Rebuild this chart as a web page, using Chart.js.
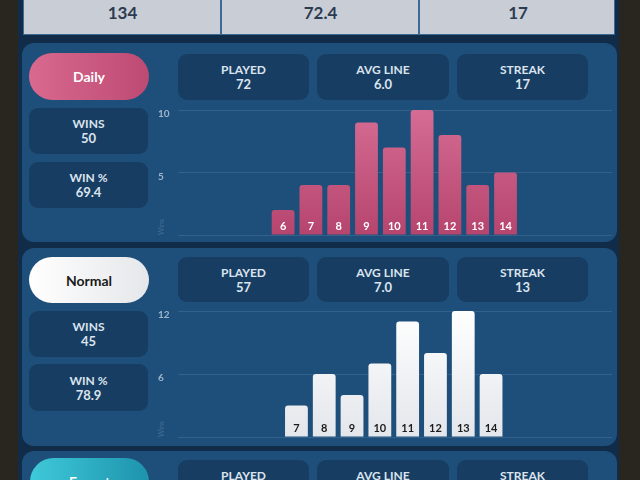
<!DOCTYPE html>
<html>
<head>
<meta charset="utf-8">
<script src="https://cdn.jsdelivr.net/npm/chart.js@4.4.0/dist/chart.umd.min.js"></script>
<style>
  html, body { margin: 0; padding: 0; width: 640px; height: 480px; overflow: hidden; background: #29251f; font-family: Lato, 'Noto Sans', sans-serif; }
  .abs { position: absolute; box-sizing: border-box; }
  .frame { left: 18px; top: 0; width: 601px; height: 480px; background: #112c49; }
  .top { left: 23px; top: -10px; width: 592px; height: 45px; background: #c9ced6; border: 1px solid #3d6a94; border-top: none; }
  .cell { top: 0; height: 44px; display: flex; align-items: center; justify-content: center; padding-top: 1px; color: #2c3b50; font-weight: bold; font-size: 17px; }
  .div { top: 0; width: 2px; height: 44px; background: #3d6a94; }
  .panel { left: 22px; width: 595px; background: #1e4e7a; border-radius: 12px; }
  .box { background: #173d62; border-radius: 9px; display: flex; flex-direction: column; align-items: center; justify-content: center; color: #dbe4ee; font-weight: bold; line-height: 14px; }
  .box .l { font-size: 12px; }
  .box .v { font-size: 13px; }
  .pill { border-radius: 24px; display: flex; align-items: center; justify-content: center; font-weight: bold; font-size: 14px; }
  .chart { left: 150px; width: 470px; }
</style>
</head>
<body>
<div class="abs frame"></div>

<div class="abs top">
  <div class="abs cell" style="left:0;width:197px">134</div>
  <div class="abs div" style="left:196px"></div>
  <div class="abs cell" style="left:198px;width:197px">72.4</div>
  <div class="abs div" style="left:394px"></div>
  <div class="abs cell" style="left:396px;width:196px">17</div>
</div>

<!-- Daily -->
<div class="abs panel" style="top:43px;height:199px"></div>
<div class="abs pill" style="left:29px;top:53px;width:120px;height:47px;background:linear-gradient(90deg,#d9698f,#bd4a73);color:#fff">Daily</div>
<div class="abs box" style="left:178px;top:54px;width:131px;height:46px"><span class="l">PLAYED</span><span class="v">72</span></div>
<div class="abs box" style="left:317px;top:54px;width:132px;height:46px"><span class="l">AVG LINE</span><span class="v">6.0</span></div>
<div class="abs box" style="left:457px;top:54px;width:131px;height:46px"><span class="l">STREAK</span><span class="v">17</span></div>
<div class="abs box" style="left:29px;top:108px;width:119px;height:46px"><span class="l">WINS</span><span class="v">50</span></div>
<div class="abs box" style="left:29px;top:162px;width:119px;height:46px"><span class="l">WIN %</span><span class="v">69.4</span></div>
<div class="abs chart" style="top:100px;height:145px"><canvas id="daily"></canvas></div>

<!-- Normal -->
<div class="abs panel" style="top:248px;height:198px"></div>
<div class="abs pill" style="left:29px;top:257px;width:120px;height:46px;background:linear-gradient(90deg,#ffffff,#e6e7ea);color:#1b1b1b">Normal</div>
<div class="abs box" style="left:178px;top:257px;width:131px;height:45px"><span class="l">PLAYED</span><span class="v">57</span></div>
<div class="abs box" style="left:317px;top:257px;width:132px;height:45px"><span class="l">AVG LINE</span><span class="v">7.0</span></div>
<div class="abs box" style="left:457px;top:257px;width:131px;height:45px"><span class="l">STREAK</span><span class="v">13</span></div>
<div class="abs box" style="left:29px;top:311px;width:119px;height:46px"><span class="l">WINS</span><span class="v">45</span></div>
<div class="abs box" style="left:29px;top:364px;width:119px;height:47px"><span class="l">WIN %</span><span class="v">78.9</span></div>
<div class="abs chart" style="top:301px;height:146px"><canvas id="normal"></canvas></div>

<!-- Expert (cut off) -->
<div class="abs panel" style="top:451px;height:80px"></div>
<div class="abs pill" style="left:30px;top:458px;width:119px;height:47px;background:linear-gradient(90deg,#3fc9d9,#1d93ad);color:#fff">Expert</div>
<div class="abs box" style="left:178px;top:460px;width:131px;height:46px;justify-content:flex-start;padding-top:9px"><span class="l">PLAYED</span></div>
<div class="abs box" style="left:317px;top:460px;width:132px;height:46px;justify-content:flex-start;padding-top:9px"><span class="l">AVG LINE</span></div>
<div class="abs box" style="left:457px;top:460px;width:131px;height:46px;justify-content:flex-start;padding-top:9px"><span class="l">STREAK</span></div>

<script>
// guesses (line number) and wins per guess
const dailyGuesses = [6, 7, 8, 9, 10, 11, 12, 13, 14];
const dailyWins = [2, 4, 4, 9, 7, 10, 8, 4, 5];
const dailyTicks = [0, 5, 10];

const normalGuesses = [7, 8, 9, 10, 11, 12, 13, 14];
const normalWins = [3, 6, 4, 7, 11, 8, 12, 6];
const normalTicks = [0, 6, 12];

// numbers drawn inside the bottom of each bar
const barLabels = {
  id: 'barLabels',
  afterDatasetsDraw(chart, args, opts) {
    const { ctx } = chart;
    const meta = chart.getDatasetMeta(0);
    const ds = chart.data.datasets[0];
    ctx.save();
    ctx.font = 'bold 11px Lato, sans-serif';
    ctx.fillStyle = opts.color;
    ctx.textAlign = 'center';
    ctx.textBaseline = 'middle';
    meta.data.forEach((bar, i) => {
      ctx.fillText(String(ds.data[i].x), bar.x, bar.base - 8);
    });
    ctx.restore();
  },
};

function makeChart(id, guesses, wins, ticks, xMin, xMax, topColor, bottomColor, labelColor) {
  const data = guesses.map((g, i) => ({ x: g, y: wins[i] }));
  return new Chart(document.getElementById(id), {
    type: 'bar',
    data: {
      datasets: [{
        data: data,
        backgroundColor: (c) => {
          const area = c.chart.chartArea;
          if (!area) return topColor;
          const g = c.chart.ctx.createLinearGradient(0, area.top, 0, area.bottom);
          g.addColorStop(0, topColor);
          g.addColorStop(1, bottomColor);
          return g;
        },
        borderRadius: 3,
        categoryPercentage: 1,
        barPercentage: 0.82,
      }],
    },
    plugins: [barLabels],
    options: {
      responsive: true,
      maintainAspectRatio: false,
      animation: false,
      layout: { padding: { left: 8, right: 8, top: 10, bottom: 10 } },
      plugins: {
        legend: { display: false },
        tooltip: { enabled: false },
        barLabels: { color: labelColor },
      },
      scales: {
        x: {
          type: 'linear',
          display: false,
          offset: false,
          min: xMin,
          max: xMax,
          ticks: { stepSize: 1, includeBounds: false },
        },
        y: {
          min: ticks[0],
          max: ticks[ticks.length - 1],
          afterBuildTicks: (scale) => { scale.ticks = ticks.map((v) => ({ value: v })); },
          afterFit: (scale) => { scale.width = 20; },
          border: { display: false },
          grid: { color: 'rgba(170,200,230,0.16)', drawTicks: false },
          ticks: {
            crossAlign: 'far',
            padding: 0,
            labelOffset: 4,
            color: '#9db6cf',
            font: { family: 'Lato, sans-serif', size: 10, weight: 'bold' },
            callback: (v) => (v === 0 ? '' : v),
          },
          title: {
            display: true,
            text: 'Wins',
            align: 'start',
            color: 'rgba(200,220,240,0.22)',
            font: { family: 'Lato, sans-serif', size: 7 },
            padding: 0,
          },
        },
      },
    },
  });
}

makeChart('daily', dailyGuesses, dailyWins, dailyTicks, 2.22, 17.83, '#d56c93', '#b6456e', '#ffffff');
makeChart('normal', normalGuesses, normalWins, normalTicks, 2.74, 18.35, '#ffffff', '#e3e6eb', '#1c1c1c');
</script>
</body>
</html>
